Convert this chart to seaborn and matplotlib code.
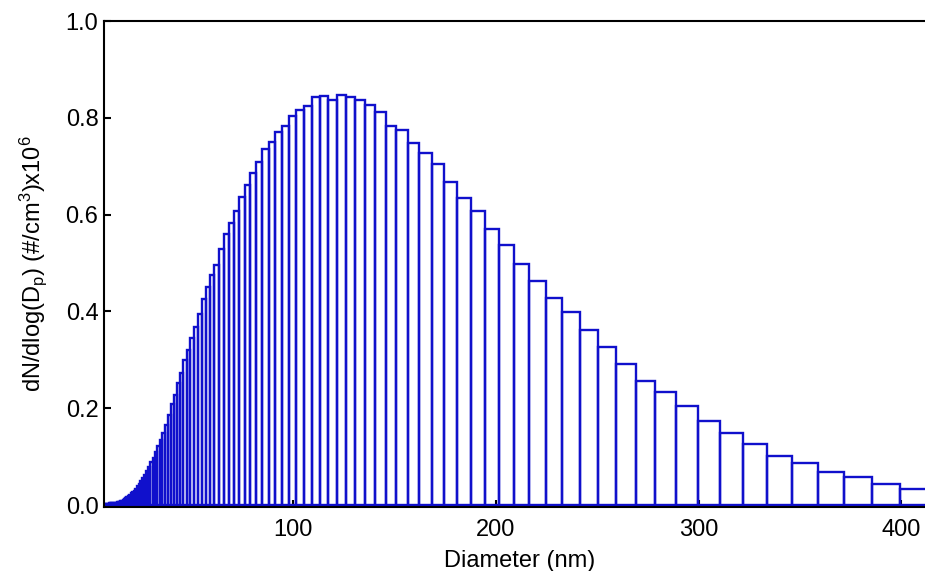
import matplotlib
matplotlib.use("Agg")
import matplotlib.pyplot as plt
import seaborn as sns
import numpy as np

# Bin lower edges (nm), 64 channels/decade, last value closes the last bin
diameters = [7.10, 7.37, 7.64, 7.91, 8.20, 8.51, 8.82, 9.14, 9.47, 9.82,
             10.2, 10.6, 10.9, 11.3, 11.8, 12.2, 12.6, 13.1, 13.6, 14.1,
             14.6, 15.1, 15.7, 16.3, 16.8, 17.5, 18.1, 18.8, 19.5, 20.2,
             20.9, 21.7, 22.5, 23.3, 24.1, 25.0, 25.9, 26.9, 27.9, 28.9,
             30.0, 31.1, 32.2, 33.4, 34.6, 35.9, 37.2, 38.5, 40.0, 41.4,
             42.9, 44.5, 46.1, 47.8, 49.6, 51.4, 53.3, 55.2, 57.3, 59.4,
             61.5, 63.8, 66.1, 68.5, 71.0, 73.7, 76.4, 79.1, 82.0, 85.1,
             88.2, 91.4, 94.7, 98.2,
             101.8, 105.5, 109.4, 113.4, 117.6, 121.9, 126.3, 131.0, 135.8, 140.7,
             145.9, 151.2, 156.8, 162.5, 168.5, 174.7, 181.1, 187.7, 194.6, 201.7,
             209.1, 216.7, 224.7, 232.9, 241.4, 250.3, 259.5, 269.0, 278.8, 289.0,
             299.6, 310.6, 322.0, 333.8, 346.0, 358.7, 371.8, 385.4, 399.5, 414.2]

# dN/dlogDp (x10^6 #/cm^3) for each bin starting at diameters[i]
concentration = [0.002, 0.002, 0.002, 0.003, 0.003, 0.003, 0.003, 0.003, 0.004, 0.004,
                 0.004, 0.004, 0.004, 0.004, 0.004, 0.005, 0.005, 0.005, 0.006, 0.006,
                 0.007, 0.008, 0.009, 0.010, 0.012, 0.014, 0.016, 0.018, 0.021, 0.024,
                 0.027, 0.030, 0.034, 0.039, 0.044, 0.050, 0.056, 0.063, 0.070, 0.078,
                 0.088, 0.098, 0.109, 0.121, 0.134, 0.149, 0.165, 0.186, 0.208, 0.228,
                 0.252, 0.272, 0.299, 0.320, 0.345, 0.368, 0.394, 0.425, 0.450, 0.476,
                 0.496, 0.529, 0.559, 0.582, 0.607, 0.637, 0.661, 0.687, 0.709, 0.735,
                 0.750, 0.771, 0.784, 0.804,
                 0.816, 0.825, 0.844, 0.845, 0.837, 0.847, 0.843, 0.836, 0.826, 0.812,
                 0.784, 0.775, 0.749, 0.727, 0.705, 0.667, 0.634, 0.608, 0.570, 0.537,
                 0.498, 0.462, 0.428, 0.399, 0.361, 0.327, 0.292, 0.256, 0.233, 0.204,
                 0.173, 0.149, 0.126, 0.102, 0.087, 0.069, 0.057, 0.044, 0.033]

x_ticks = [100, 200, 300, 400]
y_ticks = [0.0, 0.2, 0.4, 0.6, 0.8, 1.0]
y_tick_labels = ["0.0", "0.2", "0.4", "0.6", "0.8", "1.0"]

sns.set_style("ticks")
plt.rcParams["font.family"] = ["Liberation Sans", "DejaVu Sans"]
plt.rcParams["mathtext.default"] = "regular"
plt.rcParams["text.color"] = "black"
plt.rcParams["axes.labelcolor"] = "black"

W, H = 925, 571
fig = plt.figure(figsize=(W / 100, H / 100), dpi=100)
ax = fig.add_axes([104 / W, 1 - 507 / H, (936 - 104) / W, (507 - 21) / H])

sns.histplot(x=diameters[:-1], weights=concentration, bins=diameters,
             stat="count", element="bars", fill=False, color="#1010cc",
             linewidth=1.7, ax=ax)

ax.set_xlim(7.1, 417)
ax.set_ylim(-0.004, 1.0)
ax.set_xticks(x_ticks)
ax.set_yticks(y_ticks)
ax.set_yticklabels(y_tick_labels)
ax.tick_params(direction="in", length=5, width=1.5, labelsize=17, colors="black",
               pad=4)
ax.tick_params(axis="x", pad=9)
for side in ["left", "bottom", "top"]:
    ax.spines[side].set_visible(True)
    ax.spines[side].set_linewidth(1.5)
    ax.spines[side].set_color("black")
ax.spines["right"].set_visible(False)

ax.set_xlabel("Diameter (nm)", fontsize=17, labelpad=6, color="black")
ax.set_ylabel("dN/dlog(D$_p$) (#/cm$^3$)x10$^6$", fontsize=17, labelpad=12,
              color="black")
ax.grid(False)

fig.savefig("out.png", dpi=100)
